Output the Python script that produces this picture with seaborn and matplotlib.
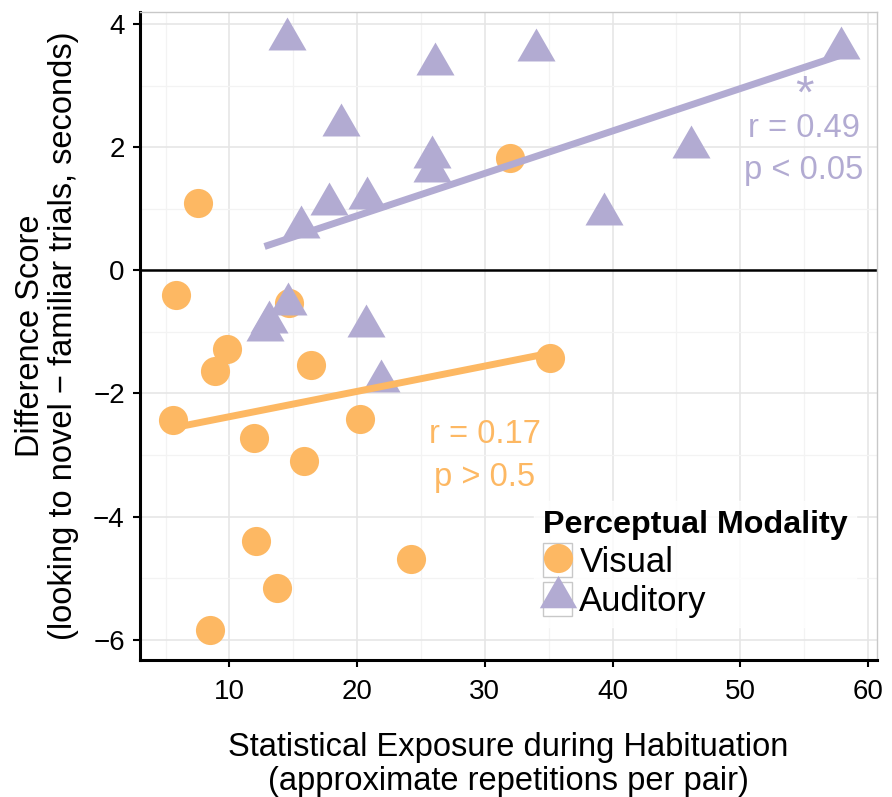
import numpy as np
import pandas as pd
import matplotlib
matplotlib.use("Agg")
import matplotlib.pyplot as plt
import seaborn as sns
from matplotlib.lines import Line2D
from matplotlib.patches import Rectangle
from matplotlib.legend_handler import HandlerTuple
from matplotlib.ticker import MultipleLocator

# values
visual_x = [7.51, 32.0, 5.8, 14.7, 9.83, 8.86, 16.35, 35.1, 5.6, 20.2, 11.9, 15.85,
            12.07, 24.2, 13.7, 8.46]
visual_y = [1.09, 1.82, -0.40, -0.53, -1.27, -1.64, -1.54, -1.43, -2.43, -2.41, -2.73,
            -3.10, -4.39, -4.69, -5.16, -5.85]
auditory_x = [14.47, 26.13, 34.02, 57.86, 18.73, 25.9, 25.85, 46.16, 39.34, 17.77,
              20.74, 15.57, 14.6, 12.75, 13.1, 20.7, 21.9]
auditory_y = [3.76, 3.36, 3.58, 3.62, 2.36, 1.85, 1.62, 2.01, 0.91, 1.08, 1.18, 0.71,
              -0.54, -0.97, -0.84, -0.90, -1.80]

modalities = ["Visual", "Auditory"]
colors = ["#fdb863", "#b2abd2"]

df = pd.concat([
    pd.DataFrame({"exposure": visual_x, "diff": visual_y, "modality": "Visual"}),
    pd.DataFrame({"exposure": auditory_x, "diff": auditory_y, "modality": "Auditory"}),
])

sns.set_theme(style="whitegrid")
plt.rcParams["font.family"] = ["Liberation Sans", "DejaVu Sans"]
plt.rcParams["text.color"] = "black"
plt.rcParams["axes.labelcolor"] = "black"

fig = plt.figure(figsize=(8.92, 7.97), dpi=100)
ax = fig.add_axes([0.157, 0.172, 0.826, 0.813])

# triangle with its centroid on the data point (like ggplot shape 17)
tri = [(0, 1), (-0.866, -0.5), (0.866, -0.5), (0, 1)]
markers = {"Visual": "o", "Auditory": tri}
sizes = {"Visual": 440, "Auditory": 1000}
pal = dict(zip(modalities, colors))

ax.axhline(0, color="black", lw=1.8, zorder=1)

for m in modalities:
    sub = df[df["modality"] == m]
    sns.scatterplot(data=sub, x="exposure", y="diff", color=pal[m], marker=markers[m],
                    s=sizes[m], linewidth=0, legend=False, ax=ax, zorder=3)

for m in modalities:
    sub = df[df["modality"] == m]
    sns.regplot(data=sub, x="exposure", y="diff", scatter=False, ci=None, color=pal[m],
                truncate=True, line_kws=dict(lw=5, solid_capstyle="butt", zorder=4), ax=ax)

# correlation notes
ax.text(55.0, 2.84, "*", color=colors[1], fontsize=34, ha="center", va="center")
ax.text(55.0, 2.30, "r = 0.49", color=colors[1], fontsize=23.5, ha="center", va="center")
ax.text(55.0, 1.62, "p < 0.05", color=colors[1], fontsize=23.5, ha="center", va="center")
ax.text(30.0, -2.67, "r = 0.17", color=colors[0], fontsize=23.5, ha="center", va="center")
ax.text(30.0, -3.37, "p > 0.5", color=colors[0], fontsize=23.5, ha="center", va="center")

ax.set_xlim(3.0, 60.7)
ax.set_ylim(-6.33, 4.2)
ax.set_xticks([10, 20, 30, 40, 50, 60])
ax.set_yticks([-6, -4, -2, 0, 2, 4])
ax.xaxis.set_minor_locator(MultipleLocator(5))
ax.yaxis.set_minor_locator(MultipleLocator(1))
ax.grid(which="major", color="#e6e6e6", lw=1.2)
ax.grid(which="minor", color="#f3f3f3", lw=0.9)
ax.set_axisbelow(True)

for s in ["left", "bottom"]:
    ax.spines[s].set_color("black")
    ax.spines[s].set_linewidth(2.2)
for s in ["top", "right"]:
    ax.spines[s].set_color("#c8c8c8")
    ax.spines[s].set_linewidth(1.0)

ax.tick_params(which="major", direction="out", length=5, width=1.5, color="black",
               labelsize=20, labelcolor="black", left=True, bottom=True, pad=6)
ax.tick_params(which="major", axis="x", pad=9)
ax.tick_params(which="minor", length=0)

ax.set_xlabel("Statistical Exposure during Habituation\n(approximate repetitions per pair)",
              fontsize=23.5, labelpad=19, linespacing=1.15)
ax.set_ylabel("Difference Score\n(looking to novel \u2212 familiar trials, seconds)",
              fontsize=23.5, labelpad=10, linespacing=1.1)

handles = []
for m in modalities:
    box = Rectangle((0, 0), 1, 1, facecolor="white", edgecolor="#c8c8c8", lw=1)
    mk = Line2D([], [], ls="", marker="o" if m == "Visual" else tri, color=pal[m],
                markersize=21 if m == "Visual" else 31, markeredgewidth=0)
    handles.append((box, mk))

leg = ax.legend(handles, modalities, handler_map={tuple: HandlerTuple(ndivide=1)},
                title="Perceptual Modality", loc="upper left",
                bbox_to_anchor=(0.535, 0.245), fontsize=25, title_fontsize=23.2,
                frameon=True, handlelength=0.85, handleheight=1.12, handletextpad=0.2,
                labelspacing=0.1, borderpad=0.25, borderaxespad=0)
leg.get_frame().set_facecolor("white")
leg.get_frame().set_edgecolor("white")
leg.get_title().set_fontweight("bold")
leg._legend_box.align = "left"

plt.savefig("out.png", dpi=100)
